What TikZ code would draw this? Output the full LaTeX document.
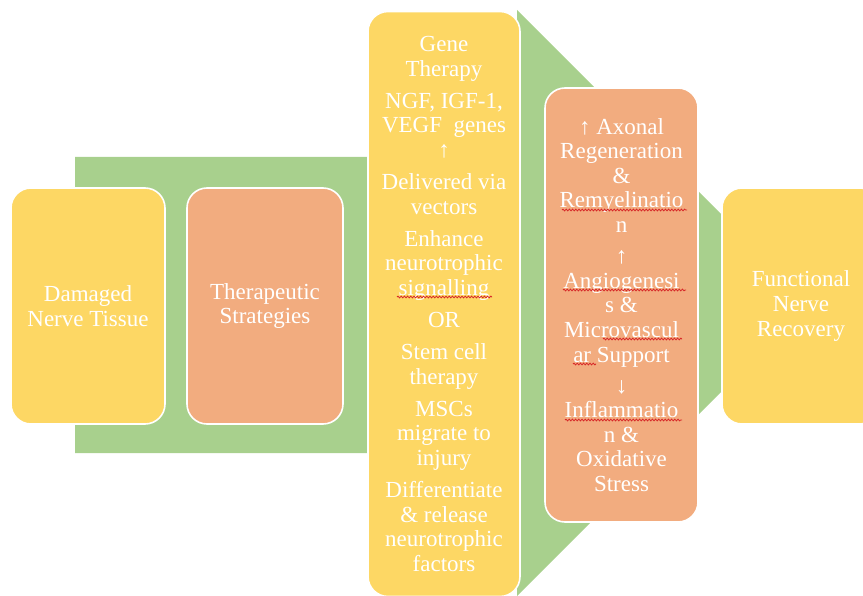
\documentclass[tikz,border=0pt]{standalone}
\usepackage{fontspec}
\setmainfont{Liberation Serif}
\usetikzlibrary{decorations.pathmorphing}
\definecolor{boxyellow}{RGB}{253,215,100}
\definecolor{boxorange}{RGB}{242,172,127}
\definecolor{arrowgreen}{RGB}{168,208,141}
\definecolor{spellred}{RGB}{215,40,40}
\tikzset{
  card/.style={draw=white, line width=1.6pt, rounded corners=20pt,
    inner sep=0pt, align=center, text=white,
    font=\fontsize{23}{24.6}\selectfont},
  yellowcard/.style={card, fill=boxyellow},
  orangecard/.style={card, fill=boxorange},
  squiggle/.style={draw=spellred, line width=0.8pt,
    decorate, decoration={snake, amplitude=0.9pt, segment length=3.2pt}}
}
\begin{document}
\begin{tikzpicture}[x=1pt, y=-1pt]
\useasboundingbox (0,0) rectangle (863,596);
\clip (0,0) rectangle (863,596);

% large process arrow in the background
\fill[arrowgreen] (75,157) -- (517,157) -- (517,10) -- (810,303)
  -- (517,596) -- (517,453) -- (75,453) -- cycle;

% stages
\node[yellowcard, minimum width=154pt, minimum height=236pt] (damaged) at (88,306)
  {Damaged\\Nerve Tissue};
\node[orangecard, minimum width=156pt, minimum height=236pt] (strategy) at (265,306)
  {Therapeutic\\Strategies};
\node[yellowcard, minimum width=152pt, minimum height=585pt] (gene) at (444,304)
  {Gene\\Therapy\\[7.5pt]
   NGF, IGF-1,\\VEGF\ \ genes\\↑\\[7.5pt]
   Delivered via\\vectors\\[7.5pt]
   Enhance\\neurotrophic\\signalling\\[7.5pt]
   OR\\[7.5pt]
   Stem cell\\therapy\\[7.5pt]
   MSCs\\migrate to\\injury\\[7.5pt]
   Differentiate\\\& release\\neurotrophic\\factors};
\node[orangecard, minimum width=153pt, minimum height=434pt] (effects) at (621.5,305)
  {↑ Axonal\\Regeneration\\\&\\Remyelinatio\\n\\[6.5pt]
   ↑\\Angiogenesi\\s \&\\Microvascul\\ar Support\\[6.5pt]
   ↓\\Inflammatio\\n \&\\Oxidative\\Stress};
\node[yellowcard, minimum width=158pt, minimum height=236pt] (recovery) at (801,306)
  {Functional\\Nerve\\Recovery};

% spelling marks under the wrapped words
\path[squiggle] (397,297) -- (492,297);
\path[squiggle] (562,210) -- (687,210);
\path[squiggle] (563,290) -- (686,290);
\path[squiggle] (603,339) -- (682,339);
\path[squiggle] (573,364) -- (596,364);
\path[squiggle] (565,420) -- (682,420);
\end{tikzpicture}
\end{document}
